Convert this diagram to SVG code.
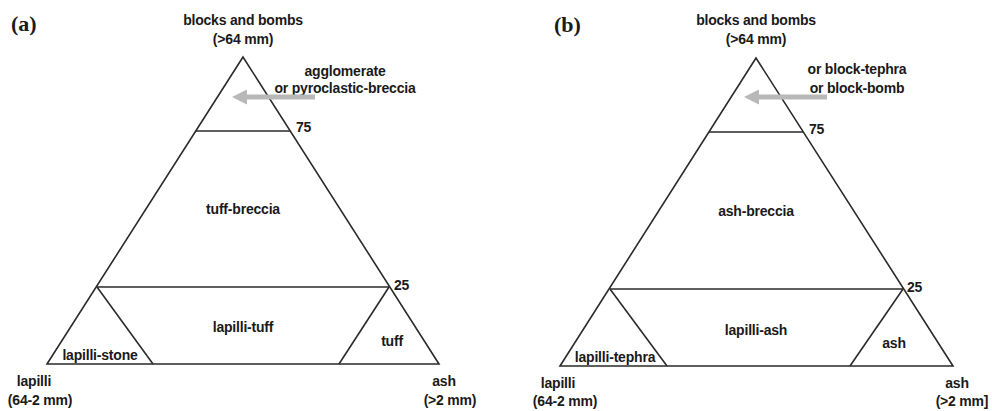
<svg xmlns="http://www.w3.org/2000/svg" width="992" height="411" viewBox="0 0 992 411">
<defs>
<style>
.t{font-family:"Liberation Sans",Arial,sans-serif;font-size:14px;font-weight:bold;fill:#1a1a1a;text-anchor:middle;letter-spacing:-0.2px}
.p{font-family:"Liberation Serif","Times New Roman",serif;font-size:22px;font-weight:bold;fill:#1a1a1a}
.ln{stroke:#2a2a2a;stroke-width:1.6;fill:none;stroke-linejoin:miter}
.ar{stroke:#b8b8b8;stroke-width:5;fill:none}
</style>
<marker id="ah" viewBox="0 0 10 10" refX="2" refY="5" markerWidth="3" markerHeight="3" orient="auto">
<path d="M0,0 L10,5 L0,10 z" fill="#b8b8b8"/>
</marker>
</defs>
<rect width="992" height="411" fill="#fff"/>

<g id="panel-a">
<text class="p" x="11" y="31">(a)</text>
<g id="a-triangle">
<path class="ln" d="M243,57 L47,364 L439,364 Z"/>
<line class="ln" x1="196" y1="131" x2="290" y2="131"/>
<line class="ln" x1="97" y1="287" x2="389" y2="287"/>
<line class="ln" x1="97" y1="287" x2="153" y2="364"/>
<line class="ln" x1="389" y1="287" x2="339" y2="364"/>
</g>
<g id="a-labels">
<text class="t" x="243" y="25">blocks and bombs</text>
<text class="t" x="243" y="44">(&gt;64 mm)</text>
<text class="t" x="345" y="76">agglomerate</text>
<text class="t" x="345" y="93">or pyroclastic-breccia</text>
<text class="t" x="296" y="132" style="text-anchor:start">75</text>
<text class="t" x="243" y="214">tuff-breccia</text>
<text class="t" x="394" y="290" style="text-anchor:start">25</text>
<text class="t" x="243" y="332">lapilli-tuff</text>
<text class="t" x="100" y="360">lapilli-stone</text>
<text class="t" x="392" y="346">tuff</text>
<text class="t" x="34" y="386">lapilli</text>
<text class="t" x="40" y="405">(64-2 mm)</text>
<text class="t" x="444" y="386">ash</text>
<text class="t" x="450" y="405">(&gt;2 mm)</text>
</g>
</g>

<g id="panel-b">
<text class="p" x="554" y="32">(b)</text>
<g id="b-triangle">
<path class="ln" d="M756,58 L560,366 L953,366 Z"/>
<line class="ln" x1="709" y1="132" x2="803" y2="132"/>
<line class="ln" x1="610" y1="289" x2="903" y2="289"/>
<line class="ln" x1="610" y1="289" x2="667" y2="366"/>
<line class="ln" x1="903" y1="289" x2="850" y2="366"/>
</g>
<g id="b-labels">
<text class="t" x="756" y="25">blocks and bombs</text>
<text class="t" x="756" y="44">(&gt;64 mm)</text>
<text class="t" x="857" y="74">or block-tephra</text>
<text class="t" x="857" y="93">or block-bomb</text>
<text class="t" x="809" y="134" style="text-anchor:start">75</text>
<text class="t" x="756" y="216">ash-breccia</text>
<text class="t" x="907" y="292" style="text-anchor:start">25</text>
<text class="t" x="756" y="335">lapilli-ash</text>
<text class="t" x="615" y="362">lapilli-tephra</text>
<text class="t" x="894" y="348">ash</text>
<text class="t" x="558" y="388">lapilli</text>
<text class="t" x="565" y="406">(64-2 mm)</text>
<text class="t" x="957" y="388">ash</text>
<text class="t" x="962" y="406">(&gt;2 mm]</text>
</g>
</g>

<g id="connectors">
<line class="ar" x1="315" y1="97" x2="244" y2="97" marker-end="url(#ah)"/>
<line class="ar" x1="827" y1="97" x2="756" y2="97" marker-end="url(#ah)"/>
</g>
</svg>
